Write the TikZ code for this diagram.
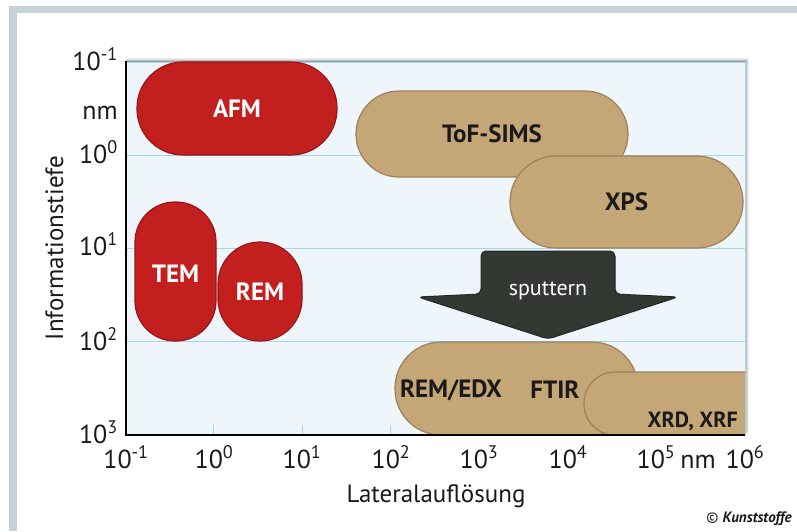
\documentclass[tikz,border=0pt]{standalone}
\usepackage{fontspec}
\setmainfont{PT Sans}
\usepackage{tikz}
\definecolor{frame}{HTML}{C8D2DA}
\definecolor{plotbg}{HTML}{EEF6FC}
\definecolor{gridblue}{HTML}{A3D6EC}
\definecolor{red500}{HTML}{C41F1F}
\definecolor{red800}{HTML}{9A1616}
\definecolor{tan500}{HTML}{C5A677}
\definecolor{tan800}{HTML}{9C8159}
\definecolor{arrowgray}{HTML}{333932}
\definecolor{ink}{HTML}{1A1A1A}
\tikzstyle{redpill}=[rectangle, draw=red800, fill=red500, line width=1.2pt, inner sep=0pt, text=white, font=\fontsize{25}{25}\selectfont\bfseries]
\tikzstyle{tanpill}=[rectangle, draw=tan800, fill=tan500, line width=1.2pt, inner sep=0pt, text=ink, font=\fontsize{25}{25}\selectfont\bfseries]
\tikzstyle{methodlabel}=[inner sep=0pt, text=ink, font=\fontsize{25}{25}\selectfont\bfseries]
\tikzstyle{ticklabel}=[inner sep=0pt, text=ink, font=\fontsize{26}{26}\selectfont]
\newcommand{\decade}[1]{10\textsuperscript{#1}}

\begin{document}
\begin{tikzpicture}[x=1pt, y=-1pt]
			\useasboundingbox (0,0) rectangle (797,531);
			\fill[white] (0,0) rectangle (797,531);
			\fill[frame] (9,6) rectangle (797,13);
			\fill[frame] (9,6) rectangle (17,531);
			% plot area with shadow
			\foreach \s/\o in {4/0.06,3/0.08,2/0.12,1/0.18}
				\fill[black, opacity=\o] (126,62-\s) rectangle (745+\s,433);
			\fill[plotbg] (126,62) rectangle (745,435);
			\draw[gridblue, line width=1pt] (126,62) -- (745,62) -- (745,435);
			\foreach \y in {155,248,341}
				\draw[gridblue, line width=1pt] (126,\y) -- (745,\y);
			\foreach \x in {213,302,390,479,567,656}
				\draw[gridblue, line width=1pt] (\x,425) -- (\x,435);
			% methods
			\node[redpill, minimum width=200pt, minimum height=93pt, rounded corners=46pt] (afm) at (237,108.5) {AFM};
			\node[redpill, minimum width=81pt, minimum height=139pt, rounded corners=40pt, text depth=0pt] (tem) at (175.5,271.5) {\raisebox{-4pt}{TEM}};
			\node[redpill, minimum width=84pt, minimum height=99pt, rounded corners=42pt] (rem) at (260,291.5) {REM};
			\node[tanpill, minimum width=272pt, minimum height=86pt, rounded corners=43pt] (tofsims) at (492,134) {ToF-SIMS};
			\node[tanpill, minimum width=233pt, minimum height=92pt, rounded corners=46pt] (xps) at (626.5,202) {XPS};
			\node[tanpill, minimum width=243pt, minimum height=93pt, rounded corners=46pt] (remedx) at (516.5,388.5) {};
			\node[methodlabel] (edx) at (451,390) {REM/EDX};
			\node[methodlabel] (ftir) at (555,390) {FTIR};
			\begin{scope}
				\clip (126,62) rectangle (745,435);
				\node[tanpill, minimum width=200pt, minimum height=63pt, rounded corners=31pt] (xrd) at (684,403.5) {};
			\end{scope}
			\node[methodlabel, font=\fontsize{22}{22}\selectfont\bfseries, anchor=base east] (xrdxrf) at (738,427) {XRD, XRF};
			% sputter arrow
			\filldraw[fill=arrowgray, draw=black!85, line width=1pt, rounded corners=5pt] (481,251) -- (615,251) -- (615,294) -- (678,297) -- (548,339) -- (418,297) -- (481,294) -- cycle;
			\node[inner sep=0pt, text=white, font=\fontsize{22}{22}\selectfont, anchor=base] (sputter) at (548,295) {sputtern};
			% axes
			\draw[black, line width=2pt] (126,61) -- (126,435) -- (745,435);
			\node[ticklabel, anchor=base east] (ym1) at (118,70) {\decade{-1}};
			\node[ticklabel, anchor=base east] (ynm) at (118,119) {nm};
			\node[ticklabel, anchor=base east] (y0) at (118,163) {\decade{0}};
			\node[ticklabel, anchor=base east] (y1) at (118,255) {\decade{1}};
			\node[ticklabel, anchor=base east] (y2) at (118,350) {\decade{2}};
			\node[ticklabel, anchor=base east] (y3) at (118,443) {\decade{3}};
			\node[ticklabel, anchor=base] (xm1) at (126,468) {\decade{-1}};
			\node[ticklabel, anchor=base] (x0) at (214,468) {\decade{0}};
			\node[ticklabel, anchor=base] (x1) at (302,468) {\decade{1}};
			\node[ticklabel, anchor=base] (x2) at (391,468) {\decade{2}};
			\node[ticklabel, anchor=base] (x3) at (479,468) {\decade{3}};
			\node[ticklabel, anchor=base] (x4) at (568,468) {\decade{4}};
			\node[ticklabel, anchor=base] (x5) at (656,468) {\decade{5}};
			\node[ticklabel, anchor=base] (xnm) at (698,468) {nm};
			\node[ticklabel, anchor=base] (x6) at (745,468) {\decade{6}};
			\node[ticklabel, font=\fontsize{25}{25}\selectfont, anchor=base] (xtitle) at (436,502) {Lateralauflösung};
			\node[ticklabel, font=\fontsize{25}{25}\selectfont, anchor=base, rotate=90] (ytitle) at (63,248) {Informationstiefe};
			\node[ticklabel, font=\fontsize{15}{15}\selectfont, anchor=base east] (credit) at (792,522) {\textcopyright\ \textbf{\textit{Kunststoffe}}};
		\end{tikzpicture}
\end{document}
